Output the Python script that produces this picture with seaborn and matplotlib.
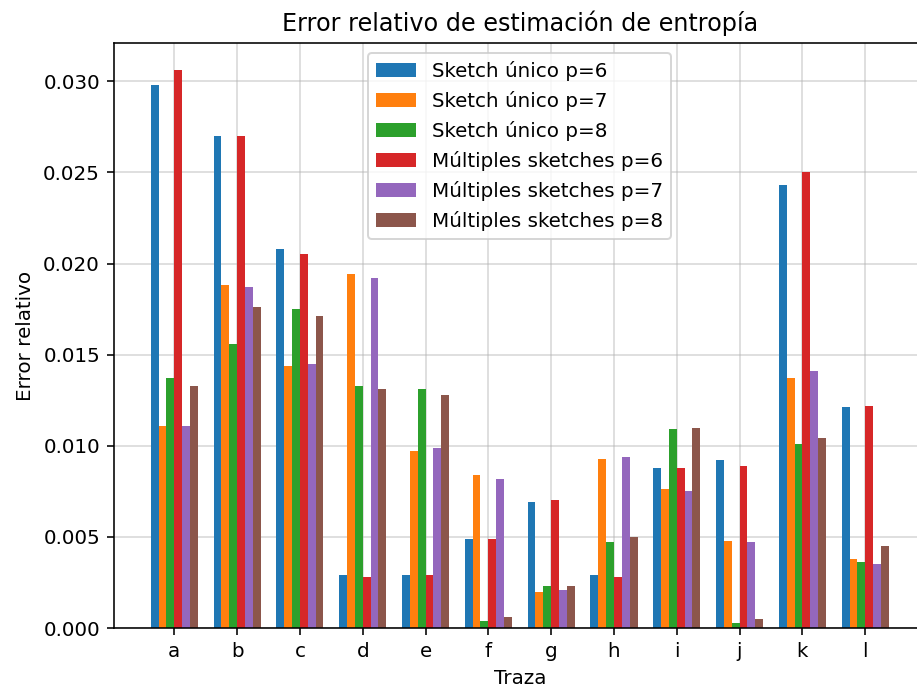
import matplotlib
matplotlib.use("Agg")
import matplotlib.pyplot as plt
import seaborn as sns
import pandas as pd

trazas = ["a", "b", "c", "d", "e", "f", "g", "h", "i", "j", "k", "l"]
series = [
    "Sketch único p=6",
    "Sketch único p=7",
    "Sketch único p=8",
    "Múltiples sketches p=6",
    "Múltiples sketches p=7",
    "Múltiples sketches p=8",
]
unico_p6 = [0.0298, 0.0270, 0.0208, 0.0029, 0.0029, 0.0049, 0.0069, 0.0029, 0.0088, 0.0092, 0.0243, 0.0121]
unico_p7 = [0.0111, 0.0188, 0.0144, 0.0194, 0.0097, 0.0084, 0.0020, 0.0093, 0.0076, 0.0048, 0.0137, 0.0038]
unico_p8 = [0.0137, 0.0156, 0.0175, 0.0133, 0.0131, 0.0004, 0.0023, 0.0047, 0.0109, 0.0003, 0.0101, 0.0036]
multi_p6 = [0.0306, 0.0270, 0.0205, 0.0028, 0.0029, 0.0049, 0.0070, 0.0028, 0.0088, 0.0089, 0.0250, 0.0122]
multi_p7 = [0.0111, 0.0187, 0.0145, 0.0192, 0.0099, 0.0082, 0.0021, 0.0094, 0.0075, 0.0047, 0.0141, 0.0035]
multi_p8 = [0.0133, 0.0176, 0.0171, 0.0131, 0.0128, 0.0006, 0.0023, 0.0050, 0.0110, 0.0005, 0.0104, 0.0045]

valores = [unico_p6, unico_p7, unico_p8, multi_p6, multi_p7, multi_p8]
df = pd.DataFrame(
    [(t, s, v) for s, vals in zip(series, valores) for t, v in zip(trazas, vals)],
    columns=["Traza", "Serie", "Error"],
)

dpi = 143.3
fig = plt.figure(figsize=(917 / dpi, 691 / dpi), dpi=dpi)
ax = fig.add_axes([114 / 917, 1 - 628 / 691, (925.5 - 114) / 917, (628 - 43) / 691])

sns.barplot(
    data=df, x="Traza", y="Error", hue="Serie", hue_order=series,
    palette=sns.color_palette("tab10", 6), width=0.75, gap=0,
    linewidth=0, saturation=1, ax=ax, errorbar=None,
)
ax.set_xlim(-0.96, 11.96)
ax.set_ylim(0, 0.0321)
ax.set_yticks([0, 0.005, 0.010, 0.015, 0.020, 0.025, 0.030])
ax.set_yticklabels(["0.000", "0.005", "0.010", "0.015", "0.020", "0.025", "0.030"])
ax.grid(True, color="#b0b0b0", alpha=0.5, linewidth=0.8)
ax.set_axisbelow(True)
ax.set_title("Error relativo de estimación de entropía", fontsize=12)
ax.set_xlabel("Traza")
ax.set_ylabel("Error relativo")
ax.legend(loc="upper center", title=None)

fig.savefig("out.png", dpi=dpi)
